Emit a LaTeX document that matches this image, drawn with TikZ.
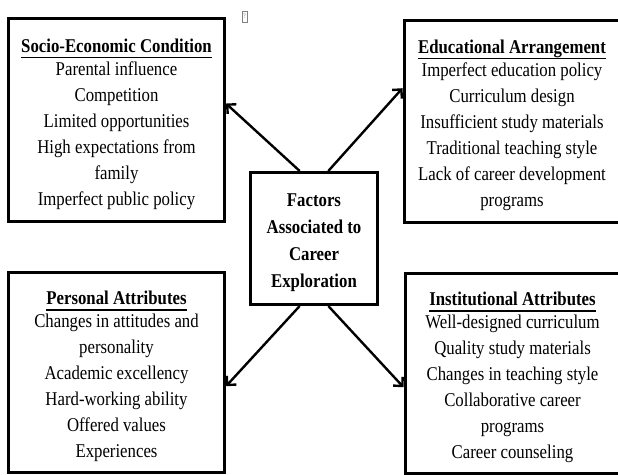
\documentclass[tikz,border=0pt]{standalone}
\usepackage{fontspec}
\setmainfont{Liberation Serif}[FakeStretch=0.86]
\usetikzlibrary{arrows.meta,calc}

% bold heading with a rule a little below its baseline; the strut lowers the block slightly
\newcommand\headline[1]{\setbox0=\hbox{\bfseries #1}\rule{0pt}{22.5pt}\rlap{\rule[-5.6pt]{\wd0}{1.2pt}}\box0}
\newcommand\hubtop{\rule{0pt}{21.5pt}}

\tikzset{
  factorbox/.style={draw, line width=3pt, align=center, inner sep=0pt,
    font=\fontsize{19.5}{26}\selectfont},
  hubbox/.style={draw, line width=3pt, align=center, inner sep=0pt,
    font=\fontsize{19.5}{27}\selectfont\bfseries},
  link/.style={line width=2.4pt, -{Straight Barb[length=6.5pt,width=13pt]}},
  glyphbox/.style={draw=gray, line width=0.5pt, inner sep=0pt,
    minimum width=5.5pt, minimum height=10.5pt, font=\fontsize{7}{7}\selectfont, text=gray}
}

\begin{document}
\begin{tikzpicture}[x=1pt,y=-1pt]
\useasboundingbox (0,0) rectangle (618,474);
\clip (0,0) rectangle (618,474);

% central box
\node[hubbox, minimum width=127pt, minimum height=132pt] (hub) at (314,238.5)
  {\hubtop Factors\\Associated to\\Career\\Exploration};

% four groups of factors
\node[factorbox, minimum width=216pt, minimum height=203pt] (soc) at (116.5,120)
  {\headline{Socio-Economic Condition}\\[-3.5pt]Parental influence\\Competition\\Limited opportunities\\High expectations from\\family\\Imperfect public policy};

\node[factorbox, minimum width=216pt, minimum height=202pt] (edu) at (512,121)
  {\headline{Educational Arrangement}\\[-3.5pt]Imperfect education policy\\Curriculum design\\Insufficient study materials\\Traditional teaching style\\Lack of career development\\programs};

\node[factorbox, minimum width=216pt, minimum height=200pt] (per) at (116.5,372)
  {\headline{Personal Attributes}\\[-3.5pt]Changes in attitudes and\\personality\\Academic excellency\\Hard-working ability\\Offered values\\Experiences};

\node[factorbox, minimum width=215pt, minimum height=200pt] (ins) at (512.5,373)
  {\headline{Institutional Attributes}\\[-3.5pt]Well-designed curriculum\\Quality study materials\\Changes in teaching style\\Collaborative career\\programs\\Career counseling};

% stray missing-glyph box
\node[glyphbox] (qmark) at (244.5,16.5) {?};

% connectors from the hub to each group
\draw[link] ($(hub.north west)!0.39!(hub.north east)$) -- ($(soc.north east)!0.42!(soc.south east)$);
\draw[link] ($(hub.north west)!0.61!(hub.north east)$) -- ($(edu.north west)!0.34!(edu.south west)$);
\draw[link] ($(hub.south west)!0.39!(hub.south east)$) -- ($(per.north east)!0.57!(per.south east)$);
\draw[link] ($(hub.south west)!0.61!(hub.south east)$) -- ($(ins.north west)!0.57!(ins.south west)$);
\end{tikzpicture}
\end{document}
